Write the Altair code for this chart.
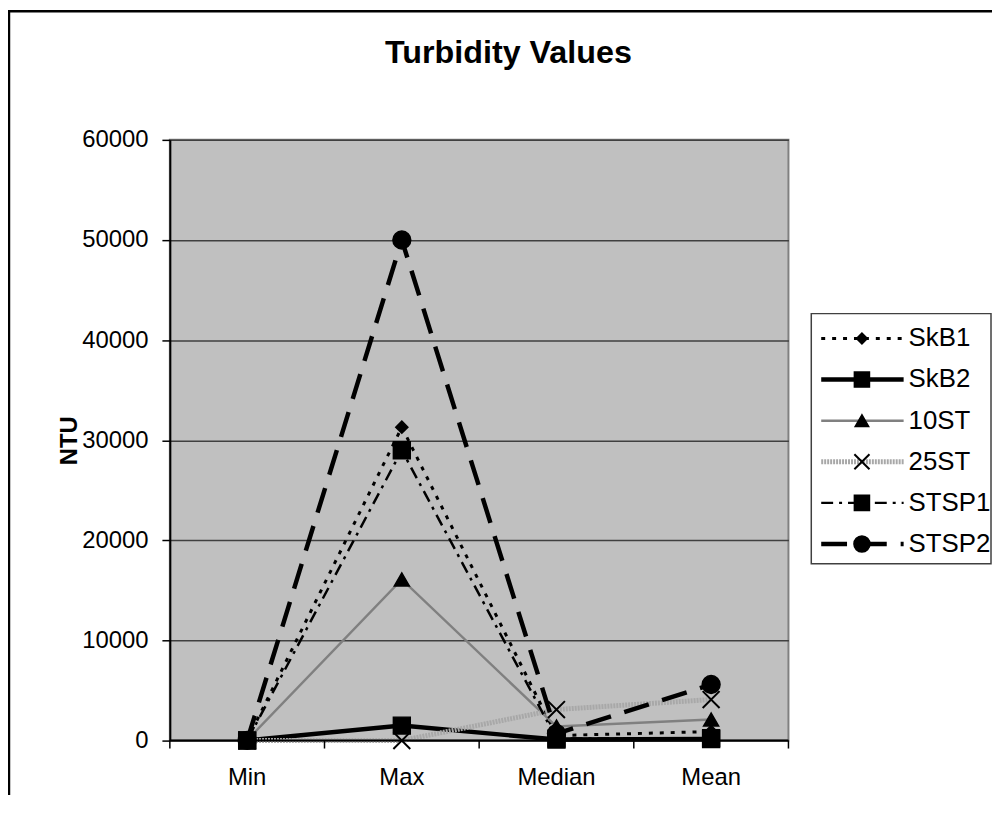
import altair as alt
import pandas as pd

FONT = "Liberation Sans"

categories = ["Min", "Max", "Median", "Mean"]
series_names = ["SkB1", "SkB2", "10ST", "25ST", "STSP1", "STSP2"]
skb1 = [50, 31300, 500, 900]
skb2 = [20, 1500, 100, 150]
st10 = [50, 16100, 1400, 2100]
st25 = [10, 0, 3100, 4100]
stsp1 = [10, 29000, 200, 250]
stsp2 = [20, 50000, 700, 5600]
y_ticks = [0, 10000, 20000, 30000, 40000, 50000, 60000]

values = {"SkB1": skb1, "SkB2": skb2, "10ST": st10, "25ST": st25,
          "STSP1": stsp1, "STSP2": stsp2}
rows = []
for s in series_names:
    for i, c in enumerate(categories):
        rows.append({"series": s, "category": c, "idx": i, "value": values[s][i]})
df = pd.DataFrame(rows)
cat_df = pd.DataFrame({"category": categories})
legend_df = pd.DataFrame({"series": series_names})
one_df = pd.DataFrame({"t": ["Turbidity Values"]})

PLOT_W = 623
PLOT_H = 605

X_PATH = "M-1,-1L1,1M-1,1L1,-1"
styles = {
    "SkB1": dict(stroke="black", width=3, dash=[4, 7], shape="diamond", size=150, filled=True),
    "SkB2": dict(stroke="black", width=4.5, dash=None, shape="square", size=289, filled=True),
    "10ST": dict(stroke="#808080", width=2.5, dash=None, shape="triangle-up", size=230, filled=True),
    "25ST": dict(stroke="#a8a8a8", width=5, dash=[2, 1], shape=X_PATH, size=289, filled=False),
    "STSP1": dict(stroke="black", width=2.5, dash=[12, 6, 3, 6], shape="square", size=289, filled=True),
    "STSP2": dict(stroke="black", width=4.5, dash=[26, 14], shape="circle", size=324, filled=True),
}

x_scale = alt.Scale(type="band", domain=categories, paddingInner=0, paddingOuter=0)
y_scale = alt.Scale(domain=[0, 60000], nice=False, zero=True)
legend_y = alt.Scale(type="point", domain=series_names, range=[200, 407], padding=0)

y_axis = alt.Axis(title="NTU", values=y_ticks, format="d", labelFontSize=24,
                  labelPadding=14, tickSize=8, tickColor="black", tickWidth=1.5,
                  domainColor="black", domainWidth=2, grid=True, gridColor="#404040",
                  gridWidth=1.5, labelColor="black", labelFont=FONT,
                  titleFont=FONT, titleFontSize=24, titleFontWeight="bold",
                  titleColor="black", titleX=-101, titleY=302.5, titleAngle=270,
                  titleAlign="center", titleBaseline="middle")


def line_kw(st):
    kw = dict(stroke=st["stroke"], strokeWidth=st["width"], strokeCap="butt")
    if st["dash"]:
        kw["strokeDash"] = st["dash"]
    return kw


def point_kw(st, scale=1.0):
    if st["filled"]:
        return dict(shape=st["shape"], size=st["size"] * scale, filled=True, color="black",
                    stroke="black", strokeWidth=1.5, opacity=1)
    return dict(shape=st["shape"], size=st["size"] * scale, filled=False, color="black",
                strokeWidth=2, opacity=1)


layers = []
for i, s in enumerate(series_names):
    st = styles[s]
    base = alt.Chart(df).transform_filter(alt.datum.series == s)
    xe = alt.X("category:N", scale=x_scale, axis=None)
    y_line = alt.Y("value:Q", scale=y_scale, axis=y_axis if i == 0 else None)
    y_pt = alt.Y("value:Q", scale=y_scale, axis=None)
    line = base.mark_line(**line_kw(st)).encode(x=xe, y=y_line, order="idx:Q")
    pts = base.mark_point(**point_kw(st)).encode(x=xe, y=y_pt)
    layers += [line, pts]

# category axis: domain line, ticks at band edges, labels at band centres
x_domain = alt.Chart(one_df).mark_rule(color="black", strokeWidth=2).encode(
    x=alt.value(0), x2=alt.value(PLOT_W), y=alt.value(PLOT_H))
x_ticks = alt.Chart(cat_df).mark_rule(color="black", strokeWidth=1.5).encode(
    x=alt.X("category:N", scale=x_scale, axis=None, bandPosition=0),
    y=alt.value(PLOT_H), y2=alt.value(PLOT_H + 8))
end_tick = alt.Chart(one_df).mark_rule(color="black", strokeWidth=1.5).encode(
    x=alt.value(PLOT_W), y=alt.value(PLOT_H), y2=alt.value(PLOT_H + 8))
x_labels = alt.Chart(cat_df).mark_text(fontSize=24, font=FONT, color="black",
                                       align="center", baseline="alphabetic").encode(
    x=alt.X("category:N", scale=x_scale, axis=None),
    y=alt.value(PLOT_H + 45), text="category:N")
layers += [x_domain, x_ticks, end_tick, x_labels]

box = alt.Chart(one_df).mark_rect(fill="white", stroke="#404040", strokeWidth=1.5).encode(
    x=alt.value(646), x2=alt.value(827), y=alt.value(175), y2=alt.value(427))
layers.append(box)
for s in series_names:
    st = styles[s]
    lb = alt.Chart(legend_df).transform_filter(alt.datum.series == s)
    ly = alt.Y("series:N", scale=legend_y, axis=None)
    layers.append(lb.mark_rule(**line_kw(st)).encode(
        x=alt.value(656), x2=alt.value(739), y=ly))
    layers.append(lb.mark_point(**point_kw(st, 0.8)).encode(x=alt.value(697), y=ly))
    layers.append(lb.mark_text(align="left", baseline="middle", fontSize=26,
                               font=FONT, color="black").encode(
        x=alt.value(744), y=ly, text="series:N"))

frame_left = alt.Chart(one_df).mark_rule(color="black", strokeWidth=2.5).encode(
    x=alt.value(-162), y=alt.value(-130), y2=alt.value(660))
frame_top = alt.Chart(one_df).mark_rule(color="black", strokeWidth=2.5).encode(
    x=alt.value(-164), x2=alt.value(830), y=alt.value(-129.5))
title = alt.Chart(one_df).mark_text(fontSize=32.5, fontWeight="bold", font=FONT,
                                    align="center", baseline="alphabetic",
                                    color="black").encode(
    x=alt.value(341), y=alt.value(-77), text="t:N")
layers += [frame_left, frame_top, title]

chart = alt.layer(*layers).resolve_scale(
    y="independent"
).properties(
    width=PLOT_W, height=PLOT_H,
    padding={"left": 163, "top": 130, "right": 205, "bottom": 52},
    autosize=alt.AutoSizeParams(type="none"),
).configure(font=FONT).configure_view(
    fill="#c0c0c0", stroke="#808080", strokeWidth=2
)

chart.save("out.html", embed_options={"renderer": "svg", "actions": False})
